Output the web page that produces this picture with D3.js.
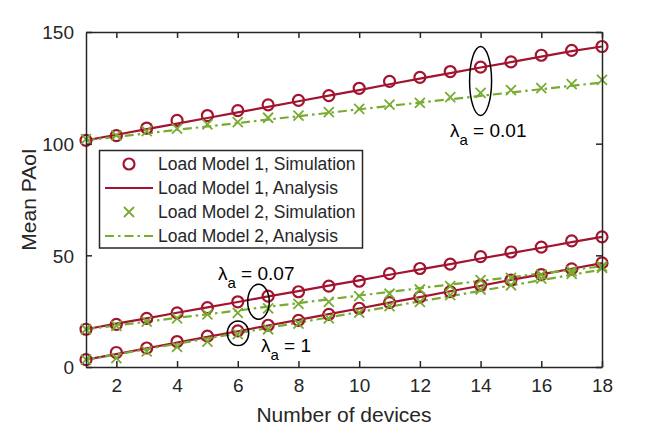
<!DOCTYPE html>
<html>
<head>
<meta charset="utf-8">
<script src="https://cdn.jsdelivr.net/npm/d3@7"></script>
<style>
  body { margin: 0; background: #fff; }
  text { font-family: "Liberation Sans", Arial, sans-serif; fill: #262626; }
</style>
</head>
<body>
<svg id="chart" width="664" height="429"></svg>
<script>
// number of devices
var devices = [1, 2, 3, 4, 5, 6, 7, 8, 9, 10, 11, 12, 13, 14, 15, 16, 17, 18];

// lambda_a = 0.01
var lm1Sim001 = [101.5, 103.6, 107.0, 110.4, 112.6, 114.8, 117.4, 119.4, 121.5, 124.8, 127.9, 129.7, 132.3, 134.3, 136.6, 139.6, 141.8, 143.5];
var lm1Ana001 = [101.5, 104.0, 106.5, 109.0, 111.5, 114.0, 116.5, 119.0, 121.5, 124.0, 126.6, 129.1, 131.6, 134.1, 136.5, 139.0, 141.4, 143.5];
var lm2Sim001 = [102.0, 103.7, 105.6, 106.7, 108.6, 109.6, 111.6, 112.6, 114.1, 115.6, 117.5, 118.3, 120.8, 122.7, 124.0, 124.9, 126.7, 128.6];
var lm2Ana001 = [101.5, 103.1, 104.6, 106.2, 107.7, 109.2, 110.8, 112.3, 113.8, 115.4, 116.9, 118.4, 119.9, 121.4, 122.9, 124.4, 125.9, 127.4];

// lambda_a = 0.07
var lm1Sim007 = [16.9, 19.1, 21.8, 24.2, 26.6, 29.2, 31.7, 33.7, 36.2, 38.4, 41.8, 44.1, 46.1, 49.4, 51.5, 53.7, 56.5, 58.3];
var lm1Ana007 = [16.9, 19.4, 21.8, 24.3, 26.7, 29.1, 31.6, 34.0, 36.4, 38.8, 41.3, 43.7, 46.1, 48.6, 51.0, 53.4, 55.9, 58.3];
var lm2Sim007 = [16.9, 18.4, 20.3, 21.8, 23.6, 24.2, 26.3, 28.3, 29.2, 31.7, 32.8, 34.7, 36.2, 38.9, 39.9, 41.4, 42.9, 45.1];
var lm2Ana007 = [16.9, 18.6, 20.3, 22.0, 23.6, 25.3, 27.0, 28.6, 30.3, 32.0, 33.6, 35.3, 36.9, 38.6, 40.2, 41.9, 43.5, 45.1];

// lambda_a = 1
var lm1Sim1 = [3.3, 6.5, 8.5, 11.4, 13.8, 16.2, 18.7, 20.9, 23.6, 26.3, 28.8, 31.3, 33.7, 36.6, 38.9, 41.4, 43.9, 46.6];
var lm1Ana1 = [3.3, 5.8, 8.4, 10.9, 13.5, 16.0, 18.6, 21.1, 23.7, 26.2, 28.8, 31.3, 33.9, 36.4, 39.0, 41.5, 44.0, 46.5];
var lm2Sim1 = [3.3, 4.0, 7.0, 9.0, 11.4, 14.7, 16.9, 19.4, 21.8, 24.3, 27.3, 29.2, 32.2, 34.7, 36.6, 39.6, 41.7, 44.4];
var lm2Ana1 = [3.3, 5.6, 8.0, 10.4, 12.8, 15.1, 17.5, 19.9, 22.2, 24.6, 27.0, 29.4, 31.7, 34.1, 36.5, 38.9, 41.3, 43.6];

var xTicks = [2, 4, 6, 8, 10, 12, 14, 16, 18];
var yTicks = [0, 50, 100, 150];
var legendLabels = ["Load Model 1, Simulation", "Load Model 1, Analysis",
                    "Load Model 2, Simulation", "Load Model 2, Analysis"];

var red = "#A2142F", green = "#77AC30", axisColor = "#262626";
var dashDot = "9,4,2.5,4";

var svg = d3.select("#chart");
var mLeft = 86, mRight = 602, mTop = 32, mBottom = 367;

var x = d3.scaleLinear().domain([1, 18]).range([mLeft, mRight]);
var y = d3.scaleLinear().domain([0, 150]).range([mBottom, mTop]);

var line = d3.line()
    .x(function (d, i) { return x(devices[i]); })
    .y(function (d) { return y(d); });

var plot = svg.append("g");

// analysis lines
var anaLines = [[lm1Ana001, red, null], [lm1Ana007, red, null], [lm1Ana1, red, null],
                [lm2Ana001, green, dashDot], [lm2Ana007, green, dashDot], [lm2Ana1, green, dashDot]];
anaLines.forEach(function (s) {
    plot.append("path")
        .attr("d", line(s[0]))
        .attr("fill", "none")
        .attr("stroke", s[1])
        .attr("stroke-width", 2.2)
        .attr("stroke-dasharray", s[2]);
});

// simulation markers
function drawCircles(vals) {
    plot.selectAll(null).data(vals).enter().append("circle")
        .attr("cx", function (d, i) { return x(devices[i]); })
        .attr("cy", function (d) { return y(d); })
        .attr("r", 5.5)
        .attr("fill", "none")
        .attr("stroke", red)
        .attr("stroke-width", 2.2);
}
function crossPath(cx, cy, s) {
    return "M" + (cx - s) + "," + (cy - s) + "L" + (cx + s) + "," + (cy + s) +
           "M" + (cx - s) + "," + (cy + s) + "L" + (cx + s) + "," + (cy - s);
}
function drawCrosses(vals) {
    plot.selectAll(null).data(vals).enter().append("path")
        .attr("d", function (d, i) { return crossPath(x(devices[i]), y(d), 5); })
        .attr("stroke", green)
        .attr("stroke-width", 1.8);
}
drawCircles(lm1Sim001); drawCircles(lm1Sim007); drawCircles(lm1Sim1);
drawCrosses(lm2Sim001); drawCrosses(lm2Sim007); drawCrosses(lm2Sim1);

// axes box with inward ticks
var axB = svg.append("g").attr("transform", "translate(0," + mBottom + ")")
    .call(d3.axisBottom(x).tickValues(xTicks).tickSizeInner(-6).tickSizeOuter(0).tickPadding(12));
var axT = svg.append("g").attr("transform", "translate(0," + mTop + ")")
    .call(d3.axisTop(x).tickValues(xTicks).tickSizeInner(-6).tickSizeOuter(0).tickFormat(""));
var axL = svg.append("g").attr("transform", "translate(" + mLeft + ",0)")
    .call(d3.axisLeft(y).tickValues(yTicks).tickSizeInner(-6).tickSizeOuter(0).tickPadding(12));
var axR = svg.append("g").attr("transform", "translate(" + mRight + ",0)")
    .call(d3.axisRight(y).tickValues(yTicks).tickSizeInner(-6).tickSizeOuter(0).tickFormat(""));

[axB, axT, axL, axR].forEach(function (a) {
    a.select(".domain").attr("stroke", axisColor).attr("stroke-width", 1.5);
    a.selectAll(".tick line").attr("stroke", axisColor).attr("stroke-width", 1.5);
    a.selectAll(".tick text").attr("font-size", 19).attr("font-family", "Liberation Sans, Arial, sans-serif").attr("fill", axisColor);
});
axL.selectAll(".tick text").attr("dy", "0.36em");

// axis labels
svg.append("text")
    .attr("x", (mLeft + mRight) / 2).attr("y", 422)
    .attr("text-anchor", "middle").attr("font-size", 21)
    .text("Number of devices");
svg.append("text")
    .attr("transform", "translate(36," + (mTop + mBottom) / 2 + ") rotate(-90)")
    .attr("text-anchor", "middle").attr("font-size", 21)
    .text("Mean PAoI");

// legend
var lg = svg.append("g");
lg.append("rect")
    .attr("x", 99.5).attr("y", 150.5).attr("width", 263).attr("height", 97.5)
    .attr("fill", "#fff").attr("stroke", axisColor).attr("stroke-width", 1.5);
var rowY = [164, 188, 212, 236];
legendLabels.forEach(function (lab, i) {
    var yy = rowY[i];
    if (i === 0) {
        lg.append("circle").attr("cx", 129).attr("cy", yy).attr("r", 5.5)
            .attr("fill", "none").attr("stroke", red).attr("stroke-width", 2.2);
    } else if (i === 1) {
        lg.append("line").attr("x1", 105).attr("x2", 153).attr("y1", yy).attr("y2", yy)
            .attr("stroke", red).attr("stroke-width", 2.2);
    } else if (i === 2) {
        lg.append("path").attr("d", crossPath(129, yy, 5))
            .attr("stroke", green).attr("stroke-width", 1.8);
    } else {
        lg.append("line").attr("x1", 105).attr("x2", 153).attr("y1", yy).attr("y2", yy)
            .attr("stroke", green).attr("stroke-width", 2.2).attr("stroke-dasharray", dashDot);
    }
    lg.append("text").attr("x", 158).attr("y", yy).attr("dy", "0.36em")
        .attr("font-size", 17.5).text(lab);
});

// annotations
function ellipse(cx, cy, rx, ry) {
    svg.append("ellipse").attr("cx", cx).attr("cy", cy).attr("rx", rx).attr("ry", ry)
        .attr("fill", "none").attr("stroke", "#000").attr("stroke-width", 1.5);
}
function lambdaLabel(tx, ty, val) {
    var t = svg.append("text").attr("x", tx).attr("y", ty).attr("font-size", 19).style("fill", "#000");
    t.append("tspan").text("\u03bb");
    t.append("tspan").attr("font-size", 15).attr("dy", 8).text("a");
    t.append("tspan").attr("dy", -8).text(" = " + val);
}
ellipse(x(14), 81, 11, 34.5);
lambdaLabel(450, 137, "0.01");
ellipse(258.5, 301.8, 10.8, 17.5);
lambdaLabel(218, 280, "0.07");
ellipse(238, 333.3, 10.7, 12.3);
lambdaLabel(261, 352, "1");
</script>
</body>
</html>
